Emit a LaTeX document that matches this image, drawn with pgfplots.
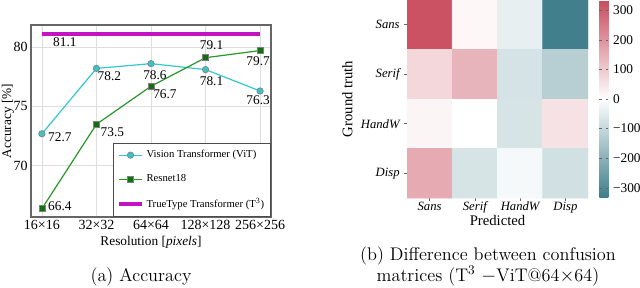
\documentclass[border=0pt]{standalone}
\usepackage{fontspec}
\usepackage{pgfplots}
\pgfplotsset{compat=1.18}
\newfontfamily\tms{Liberation Serif}
\definecolor{vitc}{RGB}{50,200,205}
\definecolor{vitf}{RGB}{60,195,200}
\definecolor{resl}{RGB}{40,150,40}
\definecolor{resf}{RGB}{20,110,20}
\definecolor{ttt}{RGB}{195,20,195}
\begin{document}
\begin{tikzpicture}
\begin{axis}[at={(23.25pt,52.5pt)}, anchor=south west, scale only axis,
 width=180pt, height=144pt,
 xmin=-0.2, xmax=4.2, ymin=65.7, ymax=81.85,
 xtick={0,...,4}, xticklabels={16×16,32×32,64×64,128×128,256×256},
 ytick={70,75,80}, yticklabels={70,75,80},
 major tick length=0pt, grid=major, grid style={black!13, line width=0.6pt},
 axis line style={black!60, line width=0.8pt},
 tick label style={font=\tms\fontsize{10.5}{12}\selectfont},
 xticklabel style={yshift=1pt}, yticklabel style={xshift=1pt},
 xlabel={Resolution [\textit{pixels}]}, ylabel={Accuracy [\%]},
 label style={font=\tms\fontsize{10}{12}\selectfont},
 xlabel style={yshift=2pt},
 ylabel style={at={(axis description cs:-0.096,0.5)}, anchor=center},
 legend cell align=left,
 legend style={at={(1,0)}, anchor=south east, font=\tms\fontsize{8}{9}\selectfont,
   draw=black!70, row sep=7pt, inner xsep=3pt, inner ysep=3.5pt}]
\addplot[vitc, line width=0.9pt, mark=*, mark size=2.4pt, mark options={fill=vitf, draw=gray, line width=0.5pt}]
 coordinates {(0,72.7)(1,78.2)(2,78.6)(3,78.1)(4,76.3)};
\addplot[resl, line width=0.9pt, mark=square*, mark size=2.3pt, mark options={fill=resf, draw=gray, line width=0.5pt}]
 coordinates {(0,66.4)(1,73.5)(2,76.7)(3,79.1)(4,79.7)};
\addplot[ttt, line width=3pt] coordinates {(0,81.1)(4,81.1)};
\legend{Vision Transformer (ViT), Resnet18, TrueType Transformer (T\textsuperscript{3})}
\begin{scope}[every node/.style={font=\tms\fontsize{10}{12}\selectfont, inner sep=0pt}]
\node[anchor=west, xshift=4.5pt, yshift=-2.25pt] at (axis cs:0,72.7) {72.7};
\node[anchor=west, xshift=0.75pt, yshift=-6pt] at (axis cs:1,78.2) {78.2};
\node[xshift=3pt, yshift=-9pt] at (axis cs:2,78.6) {78.6};
\node[xshift=4.5pt, yshift=-9pt] at (axis cs:3,78.1) {78.1};
\node[xshift=-1.5pt, yshift=-6.75pt] at (axis cs:4,76.3) {76.3};
\node[anchor=west, xshift=4.5pt, yshift=2.25pt] at (axis cs:0,66.4) {66.4};
\node[anchor=west, xshift=3pt, yshift=-6pt] at (axis cs:1,73.5) {73.5};
\node[anchor=west, xshift=1.5pt, yshift=-6pt] at (axis cs:2,76.7) {76.7};
\node[xshift=4.5pt, yshift=9.75pt] at (axis cs:3,79.1) {79.1};
\node[xshift=-1.5pt, yshift=-8.25pt] at (axis cs:4,79.7) {79.7};
\node[xshift=17.25pt, yshift=-6pt] at (axis cs:0,81.1) {81.1};
\end{scope}
\end{axis}
\begin{axis}[at={(305.25pt,66.75pt)}, anchor=south west, scale only axis,
 width=135.75pt, height=148.5pt,
 xmin=-0.5, xmax=3.5, ymin=-0.5, ymax=3.5, y dir=reverse, enlargelimits=false,
 xtick={0,...,3}, ytick={0,...,3},
 xticklabels={Sans,Serif,HandW,Disp}, yticklabels={Sans,Serif,HandW,Disp},
 tick label style={font=\tms\itshape\fontsize{9.5}{11}\selectfont},
 xticklabel style={yshift=2.5pt},
 tick align=outside, major tick length=2pt, tick style={black!60, line width=0.4pt},
 xtick pos=bottom, ytick pos=left, axis line style={draw=none},
 xlabel={Predicted}, ylabel={Ground truth},
 label style={font=\tms\fontsize{11}{13}\selectfont},
 xlabel style={yshift=5.5pt},
 ylabel style={at={(axis description cs:-0.33,0.5)}, anchor=center},
 colormap={div}{rgb255(0cm)=(61,125,137); rgb255(1cm)=(255,255,255); rgb255(2cm)=(200,76,93)},
 point meta min=-335, point meta max=335,
 colorbar,
 colorbar style={at={(parent axis.north east)}, anchor=north west,
   width=6.75pt, ytick={-300,-200,-100,0,100,200,300},
   yticklabels={−300,−200,−100,0,100,200,300},
   yticklabel style={font=\tms\fontsize{10}{12}\selectfont},
   axis line style={draw=none}, major tick length=2pt, tick style={black!60}}]
\addplot[matrix plot*, mesh/cols=4, point meta=explicit] table[meta=c]{
x y c
0 0 325
1 0 15
2 0 -40
3 0 -330
0 1 75
1 1 140
2 1 -72
3 1 -125
0 2 18
1 2 0
2 2 -70
3 2 56
0 3 160
1 3 -70
2 3 -15
3 3 -80
};
\end{axis}
\node[font=\fontsize{13.7}{16.5}\selectfont] at (105.75pt,7.5pt) {(a) Accuracy};
\node[font=\fontsize{13.7}{15.75}\selectfont, align=center] at (366pt,15.4pt)
 {(b) Difference between confusion\\matrices (T$^3$ $-$ViT@64$\times$64)};
\pgfresetboundingbox
\useasboundingbox (0,0) rectangle (480pt,215.25pt);
\end{tikzpicture}
\end{document}
